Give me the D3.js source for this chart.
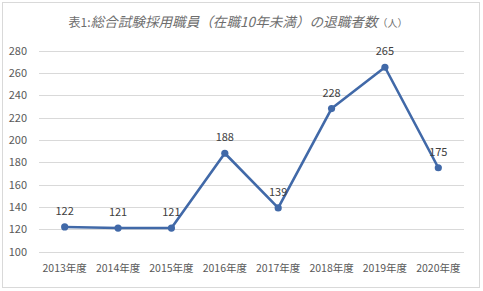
<!DOCTYPE html>
<html><head><meta charset="utf-8">
<script src="https://cdn.jsdelivr.net/npm/d3@7"></script>
<style>body{margin:0;background:#fff}svg{display:block}</style>
</head><body>
<svg id="c" width="483" height="291"></svg>
<script>
const categories = ["2013年度","2014年度","2015年度","2016年度","2017年度","2018年度","2019年度","2020年度"];
const values = [122,121,121,188,139,228,265,175];
const yTicks = [100,120,140,160,180,200,220,240,260,280];

const svg = d3.select("#c");
const font = "'Noto Sans CJK JP', 'Noto Sans', sans-serif";
svg.append("rect").attr("x",2.5).attr("y",2.5).attr("width",477).attr("height",285)
  .attr("fill","#fff").attr("stroke","#d9d9d9");

const x = d3.scaleBand().domain(categories).range([38,465]);
const y = d3.scaleLinear().domain([100,280]).range([251.5,50.5]);

const grid = svg.append("g");
grid.selectAll("line").data(yTicks).join("line")
  .attr("x1",39).attr("x2",464).attr("y1",d=>Math.round(y(d))+0.5).attr("y2",d=>Math.round(y(d))+0.5)
  .attr("stroke","#d9d9d9").attr("stroke-width",1);

const yAxis = svg.append("g").attr("transform","translate(30,0)")
  .call(d3.axisLeft(y).tickValues(yTicks).tickSize(0).tickPadding(3));
yAxis.select(".domain").remove();
yAxis.selectAll("text").attr("fill","#595959").style("font-family",font).style("font-size","11px");

const xAxis = svg.append("g").attr("transform","translate(0,262)")
  .call(d3.axisBottom(x).tickSize(0).tickPadding(3));
xAxis.select(".domain").remove();
xAxis.selectAll("text").attr("fill","#595959").style("font-family",font).style("font-size","10.5px");

const line = d3.line().x((d,i)=>x(categories[i])+x.bandwidth()/2).y(d=>y(d));
svg.append("path").datum(values).attr("d",line).attr("fill","none")
  .attr("stroke","#4169a8").attr("stroke-width",2.6).attr("stroke-linejoin","round");
svg.selectAll("circle.p").data(values).join("circle").attr("class","p")
  .attr("cx",(d,i)=>x(categories[i])+x.bandwidth()/2).attr("cy",d=>y(d)).attr("r",3.6)
  .attr("fill","#4169a8");
svg.selectAll("text.lbl").data(values).join("text").attr("class","lbl")
  .attr("x",(d,i)=>x(categories[i])+x.bandwidth()/2).attr("y",d=>y(d)-12)
  .attr("text-anchor","middle").attr("fill","#404040")
  .style("font-family",font).style("font-size","11px").text(d=>d);

const t = svg.append("text").attr("x",238).attr("y",27).attr("text-anchor","middle")
  .attr("fill","#6e6e6e").style("font-family",font);
t.append("tspan").style("font-size","12px").text("表1:");
t.append("tspan").style("font-size","13.6px").style("font-style","italic").text("総合試験採用職員（在職10年未満）の退職者数");
t.append("tspan").style("font-size","10px").text("（人）");
</script>
</body></html>
